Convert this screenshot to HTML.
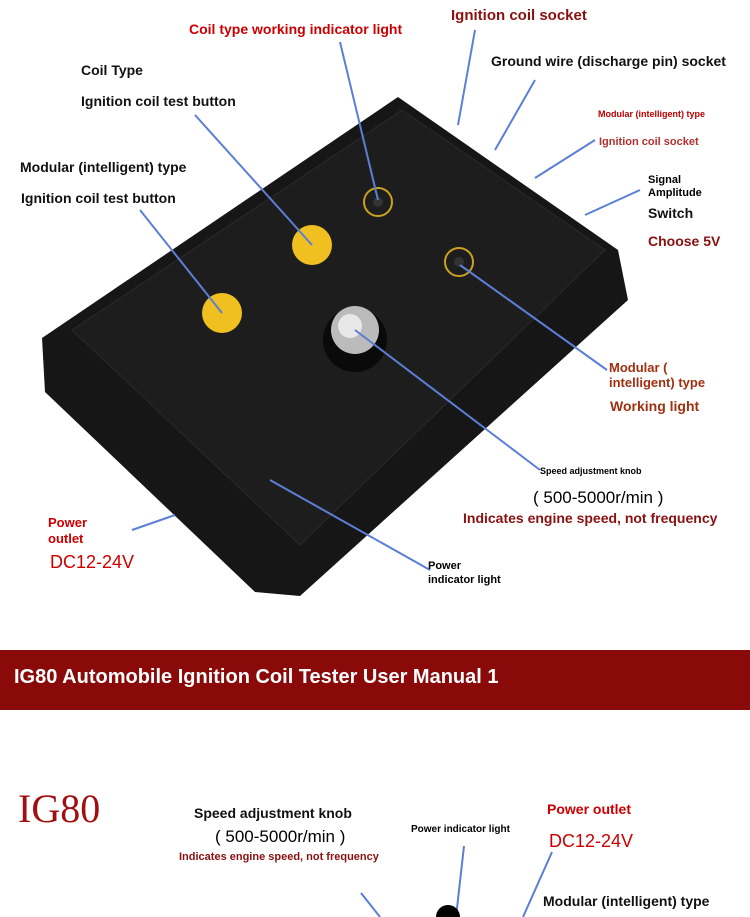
<!DOCTYPE html>
<html><head><meta charset="utf-8"><style>
body{margin:0;width:750px;height:917px;background:#fff;overflow:hidden;position:relative;font-family:"Liberation Sans","Noto Sans CJK SC",sans-serif}
.t{position:absolute;font-weight:bold;white-space:nowrap}
.k{color:#111;font-size:14px}
.r{color:#c00;font-size:14px}
.dr{color:#8b1010}
</style></head><body>
<svg width="750" height="917" style="position:absolute;left:0;top:0">
<polygon points="398,97 618,250 628,300 300,596 255,592 45,392 42,338" fill="#161616"/>
<polygon points="402,110 605,250 300,545 72,330" fill="#1d1d1d" stroke="#2a2a2a"/>
<circle cx="312" cy="245" r="20" fill="#f0c020"/>
<circle cx="222" cy="313" r="20" fill="#f0c020"/>
<circle cx="378" cy="202" r="14" fill="none" stroke="#c9a020" stroke-width="2"/>
<circle cx="378" cy="202" r="5" fill="#333"/>
<circle cx="459" cy="262" r="14" fill="none" stroke="#c9a020" stroke-width="2"/>
<circle cx="459" cy="262" r="5" fill="#333"/>
<circle cx="355" cy="340" r="32" fill="#0a0a0a"/>
<circle cx="355" cy="330" r="24" fill="#bbb"/>
<circle cx="350" cy="326" r="12" fill="#e8e8e8"/>
<g stroke="#5b7fd6" stroke-width="2" fill="none">
<line x1="340" y1="42" x2="378" y2="200"/>
<line x1="475" y1="30" x2="458" y2="125"/>
<line x1="535" y1="80" x2="495" y2="150"/>
<line x1="595" y1="140" x2="535" y2="178"/>
<line x1="640" y1="190" x2="585" y2="215"/>
<line x1="195" y1="115" x2="312" y2="245"/>
<line x1="140" y1="210" x2="222" y2="313"/>
<line x1="460" y1="265" x2="607" y2="370"/>
<line x1="355" y1="330" x2="540" y2="470"/>
<line x1="132" y1="530" x2="175" y2="515"/>
<line x1="270" y1="480" x2="430" y2="570"/>
<line x1="361" y1="893" x2="380" y2="917"/>
<line x1="464" y1="846" x2="456" y2="917"/>
<line x1="552" y1="852" x2="523" y2="917"/>
</g>
<circle cx="448" cy="917" r="12" fill="#000"/>
</svg>
<div class="t r" style="left:189px;top:21px">Coil type working indicator light</div>
<div class="t r dr" style="left:451px;top:7px;font-size:15px">Ignition coil socket</div>
<div class="t k" style="left:491px;top:53px">Ground wire (discharge pin) socket</div>
<div class="t k" style="left:81px;top:62px">Coil Type</div>
<div class="t k" style="left:81px;top:93px">Ignition coil test button</div>
<div class="t" style="left:598px;top:109px;font-size:9px;color:#b00">Modular (intelligent) type</div>
<div class="t" style="left:599px;top:136px;font-size:11px;color:#b03030">Ignition coil socket</div>
<div class="t k" style="left:20px;top:159px">Modular (intelligent) type</div>
<div class="t k" style="left:21px;top:190px">Ignition coil test button</div>
<div class="t" style="left:648px;top:174px;font-size:11px;line-height:13px">Signal<br>Amplitude</div>
<div class="t k" style="left:648px;top:205px">Switch</div>
<div class="t r dr" style="left:648px;top:233px">Choose 5V</div>
<div class="t" style="left:609px;top:360px;font-size:13px;line-height:15px;color:#a03010">Modular (<br>intelligent) type</div>
<div class="t" style="left:610px;top:398px;font-size:14px;color:#a03010">Working light</div>
<div class="t" style="left:540px;top:466px;font-size:9px">Speed adjustment knob</div>
<div class="t" style="left:533px;top:488px;font-size:17px;font-weight:normal">( 500-5000r/min )</div>
<div class="t dr" style="left:463px;top:510px;font-size:14px">Indicates engine speed, not frequency</div>
<div class="t" style="left:48px;top:515px;font-size:13px;line-height:16px;color:#c00">Power<br>outlet</div>
<div class="t" style="left:50px;top:552px;font-size:18px;font-weight:normal;color:#c00">DC12-24V</div>
<div class="t" style="left:428px;top:559px;font-size:11px;line-height:14px">Power<br>indicator light</div>
<div style="position:absolute;left:0;top:650px;width:750px;height:60px;background:#8a0a0a"></div>
<div class="t" style="left:14px;top:666px;font-size:20px;color:#fff">IG80 Automobile Ignition Coil Tester User Manual 1</div>
<div class="t" style="left:18px;top:785px;font-size:40px;font-weight:normal;color:#a01010;font-family:'Liberation Serif',serif">IG80</div>
<div class="t k" style="left:194px;top:805px">Speed adjustment knob</div>
<div class="t" style="left:215px;top:827px;font-size:17px;font-weight:normal">( 500-5000r/min )</div>
<div class="t" style="left:179px;top:851px;font-size:11px;color:#8b1010">Indicates engine speed, not frequency</div>
<div class="t" style="left:411px;top:824px;font-size:10px">Power indicator light</div>
<div class="t r" style="left:547px;top:801px">Power outlet</div>
<div class="t" style="left:549px;top:831px;font-size:18px;font-weight:normal;color:#c00">DC12-24V</div>
<div class="t k" style="left:543px;top:893px">Modular (intelligent) type</div>
</body></html>
